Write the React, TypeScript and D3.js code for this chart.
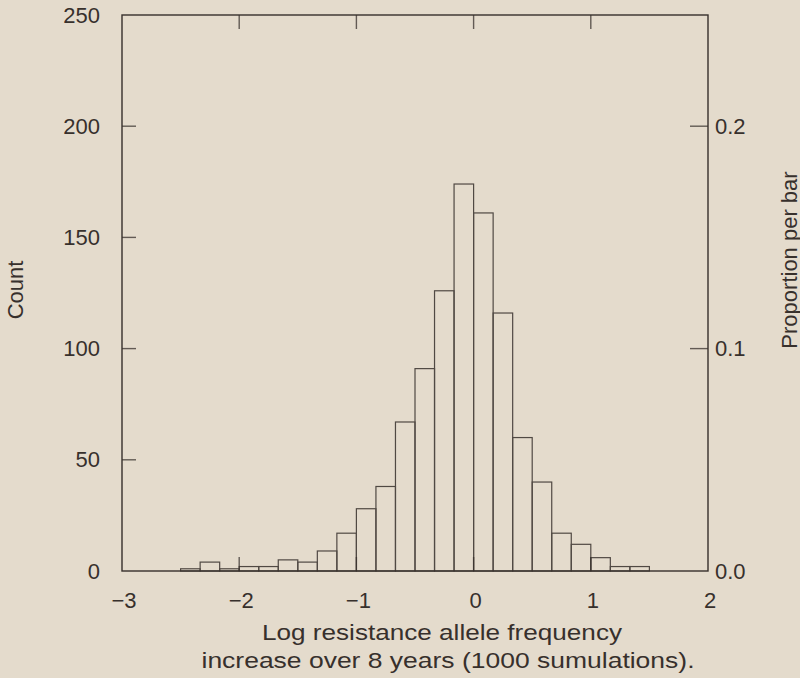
import React from "react";
import * as d3 from "d3";

// Bin start in sixths of a unit (bin width = 1/6), and counts per bin
const binStartSixths = [-15, -14, -13, -12, -11, -10, -9, -8, -7, -6, -5, -4, -3, -2, -1, 0, 1, 2, 3, 4, 5, 6, 7, 8];
const counts = [1, 4, 1, 2, 2, 5, 4, 9, 17, 28, 38, 67, 91, 126, 174, 161, 116, 60, 40, 17, 12, 6, 2, 2];
const xTicks = [-3, -2, -1, 0, 1, 2];
const xTickLabels = ["\u22123", "\u22122", "\u22121", "0", "1", "2"];
const yTicks = [0, 50, 100, 150, 200, 250];
const propTicks = [0.0, 0.1, 0.2];
const totalSims = 1000;
const xTitle1 = "Log resistance allele frequency";
const xTitle2 = "increase over 8 years (1000 sumulations).";
const yTitle = "Count";
const y2Title = "Proportion per bar";

const W = 800;
const H = 678;
const BG = "#e4dbcc";
const INK = "#37302c";
const FONT = "'Liberation Sans', Arial, Helvetica, sans-serif";

export default function App() {
  const x = d3.scaleLinear().domain([-3, 2]).range([122, 708]);
  const y = d3.scaleLinear().domain([0, 250]).range([571, 15]);
  const y2 = d3.scaleLinear().domain([0, 250 / totalSims]).range([571, 15]);
  const bins = binStartSixths.map((k, i) => ({ x0: k / 6, x1: (k + 1) / 6, c: counts[i] }));
  const tickLen = 14;

  return (
    <svg width={W} height={H} style={{ position: "absolute", left: 0, top: 0, background: BG }}>
      <rect x={0} y={0} width={W} height={H} fill={BG} />
      {/* bars */}
      <g stroke={INK} strokeWidth={1.2} fill="none" opacity={0.85}>
        {bins.filter(b => b.c > 0).map((b, i) => (
          <rect key={i} x={x(b.x0)} y={y(b.c)} width={x(b.x1) - x(b.x0)} height={y(0) - y(b.c)} />
        ))}
      </g>
      {/* frame */}
      <rect x={x(-3)} y={y(250)} width={x(2) - x(-3)} height={y(0) - y(250)} fill="none" stroke={INK} strokeWidth={1.4} />
      {/* top & bottom ticks */}
      <g stroke={INK} strokeWidth={1.4} opacity={0.75}>
        {xTicks.slice(1, -1).map(t => (
          <g key={t}>
            <line x1={x(t)} x2={x(t)} y1={y(250)} y2={y(250) + tickLen} />
            <line x1={x(t)} x2={x(t)} y1={y(0)} y2={y(0) - tickLen} />
          </g>
        ))}
        {yTicks.slice(1, -1).map(t => (
          <line key={t} x1={x(-3)} x2={x(-3) + tickLen} y1={y(t)} y2={y(t)} />
        ))}
        {propTicks.slice(1).map(t => (
          <line key={t} x1={x(2)} x2={x(2) - 18} y1={y2(t)} y2={y2(t)} />
        ))}
      </g>
      {/* labels */}
      <g fill={INK} fontFamily={FONT} fontSize={22}>
        {xTicks.map((t, i) => (
          <text key={t} x={x(t) + 2} y={608} textAnchor="middle">{xTickLabels[i]}</text>
        ))}
        {yTicks.map(t => (
          <text key={t} x={100} y={y(t)} textAnchor="end" dominantBaseline="central">{t}</text>
        ))}
        {propTicks.map(t => (
          <text key={t} x={715} y={y2(t)} textAnchor="start" dominantBaseline="central">{t.toFixed(1)}</text>
        ))}
        <text x={442} y={640} textAnchor="middle" textLength={360} lengthAdjust="spacingAndGlyphs">{xTitle1}</text>
        <text x={448} y={668} textAnchor="middle" textLength={493} lengthAdjust="spacingAndGlyphs">{xTitle2}</text>
        <text transform={`translate(15,290) rotate(-90)`} textAnchor="middle" dominantBaseline="central">{yTitle}</text>
        <text transform={`translate(789,260) rotate(-90)`} textAnchor="middle" dominantBaseline="central">{y2Title}</text>
      </g>
    </svg>
  );
}
